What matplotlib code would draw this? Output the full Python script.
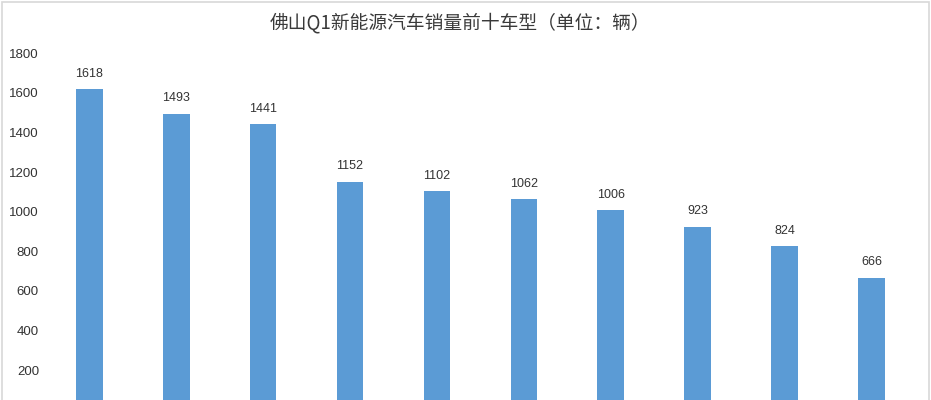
import matplotlib
matplotlib.use("Agg")
import matplotlib.pyplot as plt
from matplotlib.patches import Rectangle

# top-10 NEV models, Foshan Q1 (model names are cropped out of the source)
ranks = list(range(1, 11))
sales = [1618, 1493, 1441, 1152, 1102, 1062, 1006, 923, 824, 666]
yticks = [200, 400, 600, 800, 1000, 1200, 1400, 1600, 1800]
title = "佛山Q1新能源汽车销量前十车型（单位：辆）"

plt.rcParams["font.family"] = ["Liberation Sans", "Noto Sans CJK SC", "DejaVu Sans"]

fig = plt.figure(figsize=(9.31, 4.0), dpi=100)
ax = fig.add_axes([0.0493, 0.0, 0.9334, 0.867])

x = list(range(len(sales)))
bars = ax.bar(x, sales, width=0.307, color="#5b9bd5")
for b, v in zip(bars, sales):
    ax.annotate(str(v), (b.get_x() + b.get_width() / 2, v),
                xytext=(0, 7), textcoords="offset points",
                ha="center", va="bottom", fontsize=9, color="#333333")

ax.set_xlim(-0.5, len(sales) - 0.5)
ax.set_ylim(48.5, 1800)
ax.set_yticks(yticks)
ax.set_yticklabels([str(t) for t in yticks], fontsize=9.5, color="#333333")
ax.set_xticks([])
ax.tick_params(axis="y", length=0, pad=5)
for s in ax.spines.values():
    s.set_visible(False)

fig.text(0.494, 0.942, title, ha="center", va="center", fontsize=13.5,
         color="#3a3a3a", family=["Noto Sans CJK SC", "DejaVu Sans"])

# thin grey frame around the picture
fig.patches.append(Rectangle((0.002, -0.01), 0.996, 1.005, transform=fig.transFigure,
                             fill=False, edgecolor="#d8d8d8", lw=1.2))

fig.savefig("out.png", dpi=100)
